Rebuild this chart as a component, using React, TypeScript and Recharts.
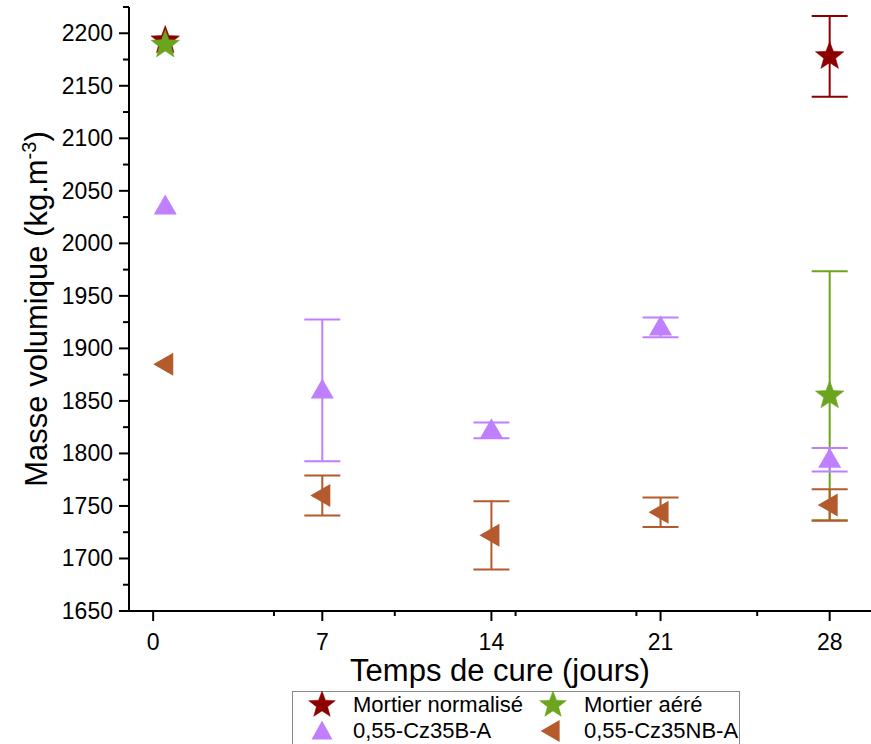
import React from 'react';
import { ScatterChart, Scatter, XAxis, YAxis, ErrorBar, Legend } from 'recharts';

const FONT = '"Liberation Sans", Arial, sans-serif';

// ---- data ----
const seriesNames = ['Mortier normalisé', 'Mortier aéré', '0,55-Cz35B-A', '0,55-Cz35NB-A'];
const seriesColors = ['#8C0000', '#6BA51E', '#BF7FFF', '#B45A2C'];

const normaliseDays = [0.5, 28];
const normaliseValues = [2193, 2178];
const normaliseErr = [null, 38.5];

const aereDays = [0.5, 28];
const aereValues = [2189, 1855];
const aereErr = [null, 118.5];

const bDays = [0.5, 7, 14, 21, 28];
const bValues = [2035, 1860, 1822, 1920, 1794];
const bErr = [null, 67.5, 7.5, 9.5, 11.2];

const nbDays = [0.5, 7, 14, 21, 28];
const nbValues = [1885, 1760, 1722, 1744, 1751];
const nbErr = [null, 19, 32.5, 14, 15];

const xMajorTicks = [0, 7, 14, 21, 28];
const xMinorTicks = [5, 10, 15, 20, 25];
const yTicks = [1650, 1675, 1700, 1725, 1750, 1775, 1800, 1825, 1850, 1875, 1900, 1925, 1950, 1975, 2000, 2025, 2050, 2075, 2100, 2125, 2150, 2175, 2200, 2225];

const xTitle = 'Temps de cure (jours)';
const yTitle = 'Masse volumique (kg.m';

const build = (days: number[], vals: number[], errs: (number | null)[]) =>
  days.map((d, i) => ({ x: d, y: vals[i], err: errs[i] == null ? undefined : errs[i] }));

const normaliseData = build(normaliseDays, normaliseValues, normaliseErr);
const aereData = build(aereDays, aereValues, aereErr);
const bData = build(bDays, bValues, bErr);
const nbData = build(nbDays, nbValues, nbErr);

// ---- shapes ----
const starPoints = (cx: number, cy: number, R: number) => {
  const r = R * 0.42;
  const pts: string[] = [];
  for (let i = 0; i < 10; i++) {
    const rad = i % 2 === 0 ? R : r;
    const a = -Math.PI / 2 + (i * Math.PI) / 5;
    pts.push(`${cx + rad * Math.cos(a)},${cy + rad * Math.sin(a)}`);
  }
  return pts.join(' ');
};

const Star = ({ cx, cy, color, R = 15 }: any) => (
  <polygon points={starPoints(cx, cy, R)} fill={color} stroke={color} strokeWidth={0.5} />
);
const TriUp = ({ cx, cy, color, w = 23, h = 20 }: any) => (
  <polygon points={`${cx},${cy - h * 0.6} ${cx + w / 2},${cy + h * 0.4} ${cx - w / 2},${cy + h * 0.4}`} fill={color} />
);
const TriLeft = ({ cx, cy, color, w = 20, h = 23 }: any) => (
  <polygon points={`${cx - w * 0.6},${cy} ${cx + w * 0.4},${cy - h / 2} ${cx + w * 0.4},${cy + h / 2}`} fill={color} />
);

// ---- ticks ----
const YTick = (props: any) => {
  const { x, y, payload } = props;
  const v = payload.value;
  const major = v % 50 === 0;
  return (
    <g>
      <line x1={x - (major ? 10 : 6)} x2={x} y1={y} y2={y} stroke="#000" strokeWidth={2} />
      {major && (
        <text x={x - 16} y={y + 8} textAnchor="end" fontFamily={FONT} fontSize={23} fill="#000">
          {v}
        </text>
      )}
    </g>
  );
};

const XTick = (props: any) => {
  const { x, y, payload } = props;
  const v = payload.value;
  const major = xMajorTicks.includes(v);
  return (
    <g>
      <line x1={x} x2={x} y1={y} y2={y + (major ? 10 : 5)} stroke="#000" strokeWidth={2} />
      {major && (
        <text x={x} y={y + 39} textAnchor="middle" fontFamily={FONT} fontSize={23} fill="#000">
          {v}
        </text>
      )}
    </g>
  );
};

// ---- legend ----
const LegendMarker = ({ i }: { i: number }) => {
  const c = seriesColors[i];
  return (
    <svg width={30} height={28} style={{ position: 'absolute', left: -15, top: -14 }}>
      {i === 0 || i === 1 ? <Star cx={15} cy={14} R={14} color={c} /> : null}
      {i === 2 ? <TriUp cx={15} cy={15} w={21} h={19} color={c} /> : null}
      {i === 3 ? <TriLeft cx={15} cy={14} w={19} h={22} color={c} /> : null}
    </svg>
  );
};

const LegendContent = () => {
  const pos = [
    { mx: 29, tx: 60, y: 13 },
    { mx: 260, tx: 291, y: 13 },
    { mx: 29, tx: 60, y: 39 },
    { mx: 259, tx: 291, y: 39 },
  ];
  return (
    <div
      style={{
        position: 'relative',
        width: 448,
        height: 70,
        border: '1px solid #8a8a8a',
        background: '#fff',
        fontFamily: FONT,
        fontSize: 22,
        color: '#000',
        boxSizing: 'border-box',
      }}
    >
      {seriesNames.map((n, i) => (
        <React.Fragment key={n}>
          <div style={{ position: 'absolute', left: pos[i].mx, top: pos[i].y }}>
            <LegendMarker i={i} />
          </div>
          <div style={{ position: 'absolute', left: pos[i].tx, top: pos[i].y - 13, lineHeight: '26px', whiteSpace: 'nowrap' }}>
            {n}
          </div>
        </React.Fragment>
      ))}
    </div>
  );
};

const XTitle = (props: any) => {
  const { viewBox } = props;
  const cx = 500;
  return (
    <text x={cx} y={viewBox.y + 70} textAnchor="middle" fontFamily={FONT} fontSize={31} fill="#000">
      {xTitle}
    </text>
  );
};

const YTitle = (props: any) => {
  const { viewBox } = props;
  const cy = viewBox.y + viewBox.height / 2;
  const x = 47;
  return (
    <text x={x} y={cy} transform={`rotate(-90 ${x} ${cy})`} textAnchor="middle" fontFamily={FONT} fontSize={31} fill="#000">
      {yTitle}
      <tspan dy={-11} fontSize={20}>-3</tspan>
      <tspan dy={11}>)</tspan>
    </text>
  );
};

export default function App() {
  const shapes = [
    (p: any) => <Star cx={p.cx} cy={p.cy} color={seriesColors[0]} />,
    (p: any) => <Star cx={p.cx} cy={p.cy} color={seriesColors[1]} />,
    (p: any) => <TriUp cx={p.cx} cy={p.cy} color={seriesColors[2]} />,
    (p: any) => <TriLeft cx={p.cx} cy={p.cy} color={seriesColors[3]} />,
  ];
  const datas = [normaliseData, aereData, bData, nbData];
  return (
    <div style={{ position: 'absolute', left: 0, top: 0, width: 871, height: 744, overflow: 'hidden', background: '#fff' }}>
      <ScatterChart width={890} height={744} margin={{ top: 7, right: 12, bottom: 0, left: 0 }}>
        <XAxis
          xAxisId="top"
          orientation="top"
          type="number"
          dataKey="x"
          domain={[-1, 30]}
          height={0}
          tick={false}
          tickLine={false}
          axisLine={{ stroke: '#000', strokeWidth: 2 }}
        />
        <XAxis
          xAxisId="x"
          type="number"
          dataKey="x"
          domain={[-1, 30]}
          allowDataOverflow
          height={133}
          ticks={[...xMajorTicks, ...xMinorTicks].sort((a, b) => a - b)}
          interval={0}
          tickSize={0}
          tickMargin={0}
          tickLine={false}
          tick={<XTick />}
          axisLine={{ stroke: '#000', strokeWidth: 2 }}
          label={<XTitle />}
        />
        <YAxis
          type="number"
          dataKey="y"
          domain={[1650, 2225]}
          allowDataOverflow
          width={129}
          ticks={yTicks}
          interval={0}
          tickSize={0}
          tickMargin={0}
          tickLine={false}
          tick={<YTick />}
          axisLine={{ stroke: '#000', strokeWidth: 2 }}
          label={<YTitle />}
        />
        <Legend
          layout="vertical"
          align="center"
          verticalAlign="middle"
          content={<LegendContent />}
          wrapperStyle={{ left: 292, top: 691, width: 448, height: 70, margin: 0 }}
        />
        {datas.map((d, i) => (
          <Scatter
            key={seriesNames[i]}
            name={seriesNames[i]}
            data={d}
            xAxisId="x"
            fill={seriesColors[i]}
            shape={shapes[i]}
            isAnimationActive={false}
          >
            <ErrorBar dataKey="err" direction="y" width={18} stroke={seriesColors[i]} strokeWidth={2} />
          </Scatter>
        ))}
      </ScatterChart>
    </div>
  );
}
